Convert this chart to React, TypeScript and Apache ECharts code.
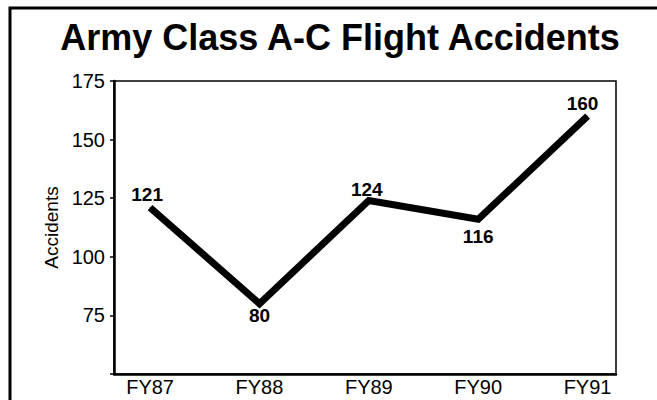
import React, { useEffect, useRef } from "react";
import * as echarts from "echarts";

const titleText = "Army Class A-C Flight Accidents";
const categories = ["FY87", "FY88", "FY89", "FY90", "FY91"];
const accidents = [121, 80, 124, 116, 160];
const labelPositions = ["top", "bottom", "top", "bottom", "top"];
const yAxisName = "Accidents";

const FONT = "'Liberation Sans', Arial, Helvetica, sans-serif";

export default function App() {
  const ref = useRef<HTMLDivElement>(null);
  useEffect(() => {
    if (!ref.current) return;
    const chart = echarts.init(ref.current, undefined, { renderer: "svg" });
    const labelTweaks: any[] = [
      { distance: 3, offset: [-3, 0] },
      { distance: 2, offset: [0, 0] },
      { distance: 1, offset: [-2, 0] },
      { distance: 7, offset: [0, 0] },
      { distance: 3, offset: [-5, 0] },
    ];
    const data = accidents.map((v, i) => ({
      value: [i, v],
      label: {
        show: true,
        position: labelPositions[i],
        distance: labelTweaks[i].distance,
        offset: labelTweaks[i].offset,
      },
    }));
    chart.setOption({
      animation: false,
      backgroundColor: "#fff",
      graphic: [
        {
          type: "rect",
          shape: { x: 10, y: 8, width: 700, height: 450 },
          style: { fill: "none", stroke: "#000", lineWidth: 3 },
          silent: true,
        },
        {
          type: "text",
          x: 340,
          y: 37,
          style: {
            text: titleText,
            font: `bold 36px ${FONT}`,
            fill: "#000",
            align: "center",
            verticalAlign: "middle",
          },
        },
      ],
      grid: {
        left: 114,
        right: 41,
        top: 81,
        bottom: 26,
        show: true,
        borderColor: "#000",
        borderWidth: 1.5,
        backgroundColor: "transparent",
      },
      xAxis: {
        type: "value",
        min: -0.33,
        max: 4.26,
        splitLine: { show: false },
        axisLine: { show: true, onZero: false, lineStyle: { color: "#000", width: 2.5 } },
        axisTick: { show: false },
        axisLabel: {
          customValues: categories.map((_, i) => i),
          formatter: (v: number) => categories[Math.round(v)] ?? "",
          color: "#000",
          fontFamily: FONT,
          fontSize: 20,
          margin: 3,
        },
      },
      yAxis: {
        type: "value",
        min: 50,
        max: 175,
        interval: 25,
        name: yAxisName,
        nameLocation: "middle",
        nameGap: 44,
        nameTextStyle: { color: "#000", fontFamily: FONT, fontSize: 19 },
        splitLine: { show: false },
        axisLine: { show: true, onZero: false, lineStyle: { color: "#000", width: 2.5 } },
        axisTick: { show: true, length: 4, lineStyle: { color: "#000", width: 1.5 } },
        axisLabel: {
          formatter: (v: number) => (v === 50 ? "" : String(v)),
          color: "#000",
          fontFamily: FONT,
          fontSize: 20,
          margin: 9,
        },
      },
      series: [
        {
          type: "line",
          data,
          showSymbol: true,
          symbol: "circle",
          symbolSize: 1,
          itemStyle: { color: "#000" },
          lineStyle: { color: "#000", width: 7, cap: "butt", join: "miter" },
          label: {
            show: true,
            color: "#000",
            fontFamily: FONT,
            fontWeight: "bold",
            fontSize: 19,
            formatter: (p: any) => String(p.value[1]),
          },
        },
      ],
    });
    return () => chart.dispose();
  }, []);
  return (
    <div
      ref={ref}
      style={{ position: "fixed", left: 0, top: 0, width: 657, height: 400 }}
    />
  );
}
